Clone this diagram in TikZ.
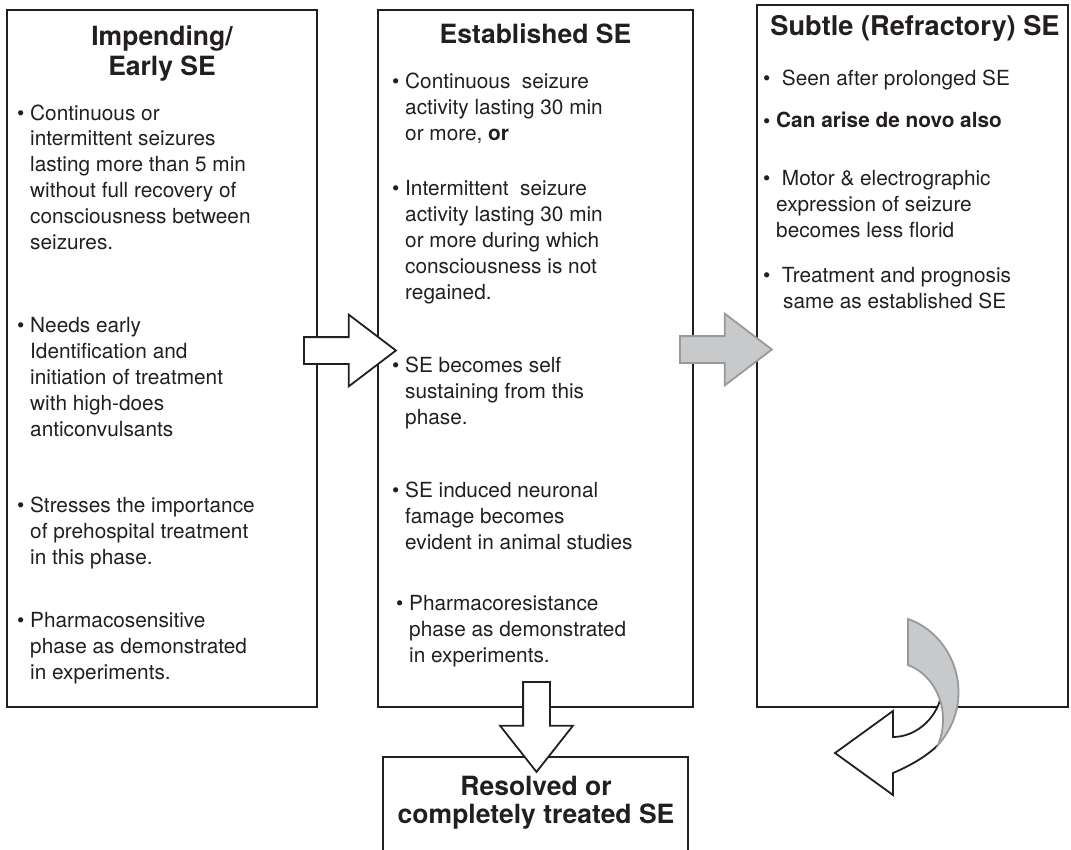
\documentclass[tikz,border=0pt]{standalone}
\usepackage{fontspec}
\setmainfont{TeX Gyre Heros}
\usetikzlibrary{shapes.arrows, positioning}
\definecolor{inkblack}{RGB}{35,31,32}
\definecolor{arrowgray}{RGB}{200,201,203}
\definecolor{arrowedge}{RGB}{152,153,155}
\newcommand{\phbullet}{\llap{\textbullet\ }}

\tikzset{
  phasebox/.style={draw=inkblack, line width=1.8pt, inner sep=0pt},
  boxtitle/.style={font=\fontsize{26.5}{30}\selectfont\bfseries, text=inkblack, align=center, anchor=base, inner sep=0pt},
  itemtext/.style={font=\fontsize{20.8}{25.8}\selectfont, text=inkblack, align=left, anchor=base west, inner sep=0pt},
  blockarrow/.style={single arrow, line width=1.8pt, inner sep=12.5pt, minimum height=92pt,
    single arrow head extend=22.5pt, single arrow tip angle=74.5, anchor=tail},
  openarrow/.style={blockarrow, draw=inkblack, fill=white},
  grayarrow/.style={blockarrow, draw=arrowedge, fill=arrowgray},
}

\begin{document}
\begin{tikzpicture}[x=1pt, y=-1pt]
  \useasboundingbox (0,0) rectangle (1071,849);
  \clip (0,0) rectangle (1071,849);

  % the three phases and the outcome
  \node[phasebox, minimum width=310pt, minimum height=697pt] (early) at (162,358.5) {};
  \node[phasebox, minimum width=315pt, minimum height=697pt] (established) at (535.5,358.5) {};
  \node[phasebox, minimum width=311pt, minimum height=702pt] (subtle) at (912.5,356) {};
  \node[phasebox, minimum width=305pt, minimum height=123pt] (resolved) at (535.5,818.5) {};

  % multi-line texts sit on the baseline of their last line
  \node[boxtitle] (earlytitle) at (162,75) {Impending/\\Early SE};
  \node[boxtitle] (esttitle) at (535.5,43) {Established SE};
  \node[boxtitle, font=\fontsize{27.2}{30}\selectfont\bfseries] (subtletitle) at (915,35) {Subtle (Refractory) SE};
  \node[boxtitle, font=\fontsize{26.5}{28}\selectfont\bfseries] (restitle) at (536,823) {Resolved or\\completely treated SE};

  \node[itemtext] (early1) at (30,249) {\phbullet Continuous or\\intermittent seizures\\lasting more than 5 min\\without full recovery of\\consciousness between\\seizures.};
  \node[itemtext] (early2) at (30,436) {\phbullet Needs early\\Identification and\\initiation of treatment\\with high-does\\anticonvulsants};
  \node[itemtext] (early3) at (30,564) {\phbullet Stresses the importance\\of prehospital treatment\\in this phase.};
  \node[itemtext] (early4) at (30,679) {\phbullet Pharmacosensitive\\phase as demonstrated\\in experiments.};

  \node[itemtext] (est1) at (405,140) {\phbullet Continuous\ \ seizure\\activity lasting 30 min\\or more, \textbf{or}};
  \node[itemtext] (est2) at (405,299) {\phbullet Intermittent\ \ seizure\\activity lasting 30 min\\or more during which\\consciousness is not\\regained.};
  \node[itemtext] (est3) at (405,424) {\phbullet SE becomes self\\sustaining from this\\phase.};
  \node[itemtext] (est4) at (405,549) {\phbullet SE induced neuronal\\famage becomes\\evident in animal studies};
  \node[itemtext] (est5) at (409,662) {\phbullet Pharmacoresistance\\phase as demonstrated\\in experiments.};

  \node[itemtext] (subtle1) at (776,85) {\phbullet\ Seen after prolonged SE};
  \node[itemtext, font=\fontsize{20.8}{25.8}\selectfont\bfseries] (subtle2) at (776,127) {\phbullet Can arise de novo also};
  \node[itemtext] (subtle3) at (776,237) {\phbullet\ Motor \& electrographic\\expression of seizure\\becomes less florid};
  \node[itemtext] (subtle4) at (776,308) {\phbullet\ Treatment and prognosis\\\hspace*{7pt}same as established SE};

  % block arrows between the phases
  \node[openarrow] (toest) at (303,350.5) {};
  \node[grayarrow] (tosubtle) at (679,349.5) {};
  \node[openarrow, shape border rotate=270, minimum height=90pt, single arrow head extend=23pt,
    single arrow tip angle=76.5] (toresolved) at (536.5,681) {};

  % curved arrow below the subtle phase
  \draw[draw=inkblack, fill=white, line width=1.8pt] (942,690) .. controls (940,715) and (918,737) .. (893,737)
    -- (893,711) -- (835,753) -- (893,795) -- (893,773) .. controls (912,765) and (928,755) .. (938,745);
  \draw[draw=arrowedge, fill=arrowgray, line width=1.8pt] (908,619) -- (908,665)
    .. controls (935,675) and (952,710) .. (938,745) .. controls (978,700) and (955,635) .. (908,619) -- cycle;
\end{tikzpicture}
\end{document}
